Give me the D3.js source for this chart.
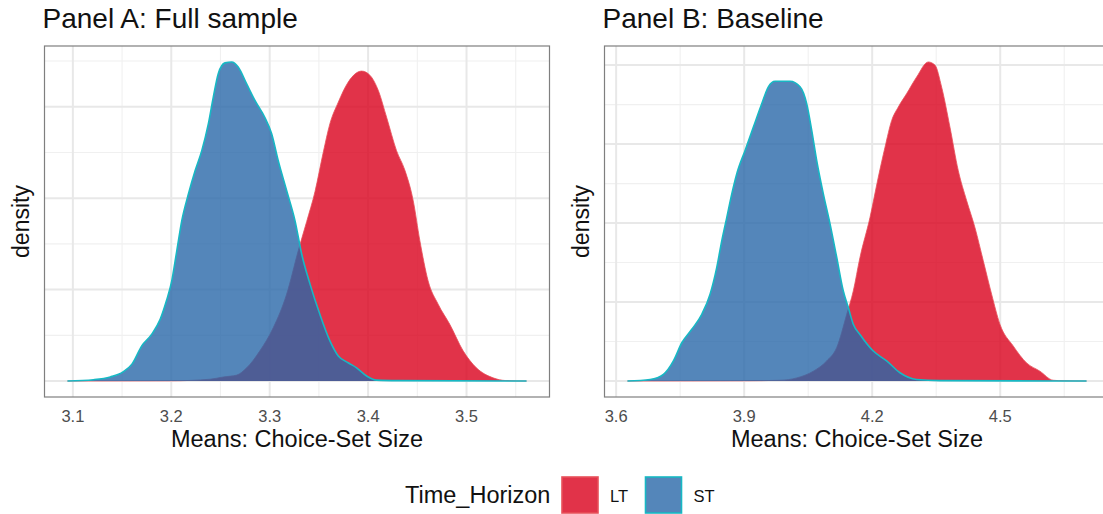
<!DOCTYPE html>
<html>
<head>
<meta charset="utf-8">
<script src="https://cdn.jsdelivr.net/npm/d3@7"></script>
<style>
body { margin: 0; background: #fff; }
svg text { font-family: "Liberation Sans", Arial, Helvetica, sans-serif; }
</style>
</head>
<body>
<svg id="drawing_region"></svg>
<script>
// values: [mean, density]
const groups = ["LT", "ST"];
const fills = { LT: "#D9001B", ST: "#2968A9" };
const outlines = { LT: "#E8505A", ST: "#17B8C4" };

const fullLT = [[3.0945,0],[3.20,0.005],[3.2394,0.04],[3.253,0.09],[3.2665,0.13],[3.2766,0.29],[3.29,0.66],
  [3.3037,1.17],[3.3172,1.90],[3.329,2.85],[3.3376,3.49],[3.346,4.14],[3.3544,5.0],[3.3612,5.63],[3.3697,6.1],
  [3.3798,6.54],[3.3934,6.78],[3.4018,6.69],[3.4103,6.36],[3.4188,5.77],[3.4289,5.04],[3.4374,4.61],[3.4458,3.95],
  [3.4526,3.07],[3.461,2.19],[3.4712,1.68],[3.483,1.24],[3.4966,0.66],[3.51,0.29],[3.527,0.07],[3.54,0.01],[3.561,0]];

const fullST = [[3.0945,0],[3.121,0.03],[3.138,0.09],[3.151,0.2],[3.160,0.37],[3.170,0.77],[3.180,1.02],
  [3.1887,1.35],[3.195,1.75],[3.2005,2.19],[3.2056,2.85],[3.2107,3.51],[3.2174,4.09],[3.2242,4.6],[3.231,5.04],
  [3.2377,5.63],[3.2427,6.21],[3.2478,6.73],[3.2546,6.96],[3.2614,6.98],[3.268,6.87],[3.2766,6.5],[3.285,6.14],
  [3.295,5.77],[3.302,5.41],[3.3087,4.82],[3.3172,4.17],[3.3257,3.51],[3.3325,2.78],[3.341,2.12],[3.351,1.46],
  [3.3612,0.88],[3.3697,0.55],[3.3798,0.40],[3.3883,0.29],[3.3985,0.11],[3.4086,0.02],[3.43,0.01],[3.561,0]];

const baseLT = [[3.6265,0],[3.90,0.003],[3.984,0.01],[4.0232,0.04],[4.062,0.125],[4.0934,0.255],[4.1169,0.425],
  [4.1403,0.845],[4.1557,1.14],[4.1714,1.565],[4.1948,2.07],[4.2143,2.58],[4.23,2.96],[4.2457,3.30],[4.2612,3.47],
  [4.2808,3.64],[4.3042,3.85],[4.3314,4.04],[4.3471,4.0],[4.3628,3.72],[4.3822,3.215],[4.4017,2.665],[4.4213,2.285],
  [4.4407,1.945],[4.4602,1.525],[4.4798,1.10],[4.4993,0.72],[4.5304,0.445],[4.5618,0.23],[4.593,0.125],
  [4.6241,0.01],[4.65,0.003],[4.7023,0]];

const baseST = [[3.6265,0],[3.6796,0.02],[3.7108,0.085],[3.7342,0.255],[3.7539,0.485],[3.7773,0.655],[3.8007,0.845],
  [3.8201,1.10],[3.8358,1.44],[3.8475,1.775],[3.8592,2.07],[3.871,2.37],[3.8827,2.625],[3.9021,2.92],[3.9216,3.215],
  [3.9412,3.51],[3.9567,3.725],[3.9724,3.795],[4.0075,3.795],[4.0309,3.725],[4.0466,3.51],[4.0583,3.175],[4.07,2.79],
  [4.0855,2.37],[4.1012,1.99],[4.1169,1.565],[4.1323,1.14],[4.1441,0.93],[4.1557,0.72],[4.1714,0.59],[4.2026,0.38],
  [4.2339,0.255],[4.2651,0.105],[4.304,0.02],[4.3588,0.005],[4.7023,0]];

const fullXTicks = [3.1, 3.2, 3.3, 3.4, 3.5];
const baseXTicks = [3.6, 3.9, 4.2, 4.5];
const fullYTicks = [0, 2, 4, 6];
const baseYTicks = [0, 1, 2, 3, 4];

const W = 1103, H = 514;
const svg = d3.select("#drawing_region").attr("width", W).attr("height", H);

// ggplot-like 5% expansion
function expand(ext) {
  const d = (ext[1] - ext[0]) * 0.05;
  return [ext[0] - d, ext[1] + d];
}
function minors(ticks) {
  const step = ticks[1] - ticks[0];
  const all = [ticks[0] - step, ...ticks, ticks[ticks.length - 1] + step];
  const out = [];
  for (let i = 0; i < all.length - 1; i++) out.push((all[i] + all[i + 1]) / 2);
  return out;
}

function drawPanel(cfg) {
  const g = svg.append("g");
  const series = { LT: cfg.lt, ST: cfg.st };
  const allPts = cfg.lt.concat(cfg.st);

  const x = d3.scaleLinear()
    .domain(expand(d3.extent(allPts, d => d[0])))
    .range([cfg.left, cfg.right]);
  const ymax = d3.max(allPts, d => d[1]);
  const y = d3.scaleLinear()
    .domain([-0.05 * ymax, 1.05 * ymax])
    .range([cfg.bottom, cfg.top]);

  const clipId = "clip_" + cfg.id;
  g.append("clipPath").attr("id", clipId).append("rect")
    .attr("x", cfg.left).attr("y", cfg.top)
    .attr("width", cfg.right - cfg.left).attr("height", cfg.bottom - cfg.top);

  const inner = g.append("g").attr("clip-path", `url(#${clipId})`);

  // grid
  const xMin = minors(cfg.xticks).filter(v => x(v) > cfg.left && x(v) < cfg.right);
  const yMin = minors(cfg.yticks).filter(v => y(v) > cfg.top && y(v) < cfg.bottom);
  inner.selectAll(".xminor").data(xMin).enter().append("line")
    .attr("x1", d => x(d)).attr("x2", d => x(d)).attr("y1", cfg.top).attr("y2", cfg.bottom)
    .attr("stroke", "#F0F0F0").attr("stroke-width", 1.1);
  inner.selectAll(".yminor").data(yMin).enter().append("line")
    .attr("x1", cfg.left).attr("x2", cfg.right).attr("y1", d => y(d)).attr("y2", d => y(d))
    .attr("stroke", "#F0F0F0").attr("stroke-width", 1.1);
  inner.selectAll(".xmajor").data(cfg.xticks).enter().append("line")
    .attr("x1", d => x(d)).attr("x2", d => x(d)).attr("y1", cfg.top).attr("y2", cfg.bottom)
    .attr("stroke", "#E8E8E8").attr("stroke-width", 2);
  inner.selectAll(".ymajor").data(cfg.yticks).enter().append("line")
    .attr("x1", cfg.left).attr("x2", cfg.right).attr("y1", d => y(d)).attr("y2", d => y(d))
    .attr("stroke", "#E8E8E8").attr("stroke-width", 2);

  const area = d3.area().curve(d3.curveMonotoneX)
    .x(d => x(d[0])).y0(y(0)).y1(d => y(d[1]));
  const line = d3.line().curve(d3.curveMonotoneX)
    .x(d => x(d[0])).y(d => y(d[1]));

  groups.forEach(k => {
    inner.append("path").datum(series[k])
      .attr("d", area)
      .attr("fill", fills[k]).attr("fill-opacity", 0.8);
    inner.append("path").datum(series[k])
      .attr("d", line)
      .attr("fill", "none")
      .attr("stroke", outlines[k])
      .attr("stroke-width", k === "ST" ? 1.6 : 1)
      .attr("stroke-opacity", k === "ST" ? 1 : 0.8);
  });

  // border
  g.append("rect")
    .attr("x", cfg.left).attr("y", cfg.top)
    .attr("width", cfg.right - cfg.left).attr("height", cfg.bottom - cfg.top)
    .attr("fill", "none").attr("stroke", "#7F7F7F").attr("stroke-width", 1.2);

  // x tick labels
  g.selectAll(".xtick").data(cfg.xticks).enter().append("text")
    .attr("x", d => x(d)).attr("y", cfg.bottom + 25)
    .attr("text-anchor", "middle")
    .attr("font-size", "16.5px").attr("fill", "#4D4D4D")
    .text(d => d.toFixed(1));

  // axis titles
  g.append("text")
    .attr("x", (cfg.left + cfg.right) / 2).attr("y", cfg.bottom + 50)
    .attr("text-anchor", "middle").attr("font-size", "23.5px").attr("fill", "#111")
    .text("Means: Choice-Set Size");
  g.append("text")
    .attr("transform", `translate(${cfg.left - 16}, ${(cfg.top + cfg.bottom) / 2}) rotate(-90)`)
    .attr("text-anchor", "middle").attr("font-size", "23px").attr("fill", "#111")
    .text("density");

  // title
  g.append("text")
    .attr("x", cfg.left - 2).attr("y", 28)
    .attr("font-size", "28px").attr("fill", "#111")
    .text(cfg.title);
}

drawPanel({ id: "a", title: "Panel A: Full sample", lt: fullLT, st: fullST,
  xticks: fullXTicks, yticks: fullYTicks, left: 44.5, right: 549.5, top: 46, bottom: 397 });
drawPanel({ id: "b", title: "Panel B: Baseline", lt: baseLT, st: baseST,
  xticks: baseXTicks, yticks: baseYTicks, left: 604.5, right: 1109.5, top: 46, bottom: 397 });

// legend
const legend = svg.append("g");
legend.append("text")
  .attr("x", 405).attr("y", 503)
  .attr("font-size", "23.5px").attr("fill", "#111")
  .text("Time_Horizon");
const keyX = { LT: 562, ST: 645.5 };
groups.forEach(k => {
  legend.append("rect")
    .attr("x", keyX[k]).attr("y", 477).attr("width", 36).attr("height", 36)
    .attr("fill", fills[k]).attr("fill-opacity", 0.8)
    .attr("stroke", outlines[k]).attr("stroke-width", 1.6);
  legend.append("text")
    .attr("x", keyX[k] + 48).attr("y", 502)
    .attr("font-size", "16.5px").attr("fill", "#111")
    .text(k);
});
</script>
</body>
</html>
